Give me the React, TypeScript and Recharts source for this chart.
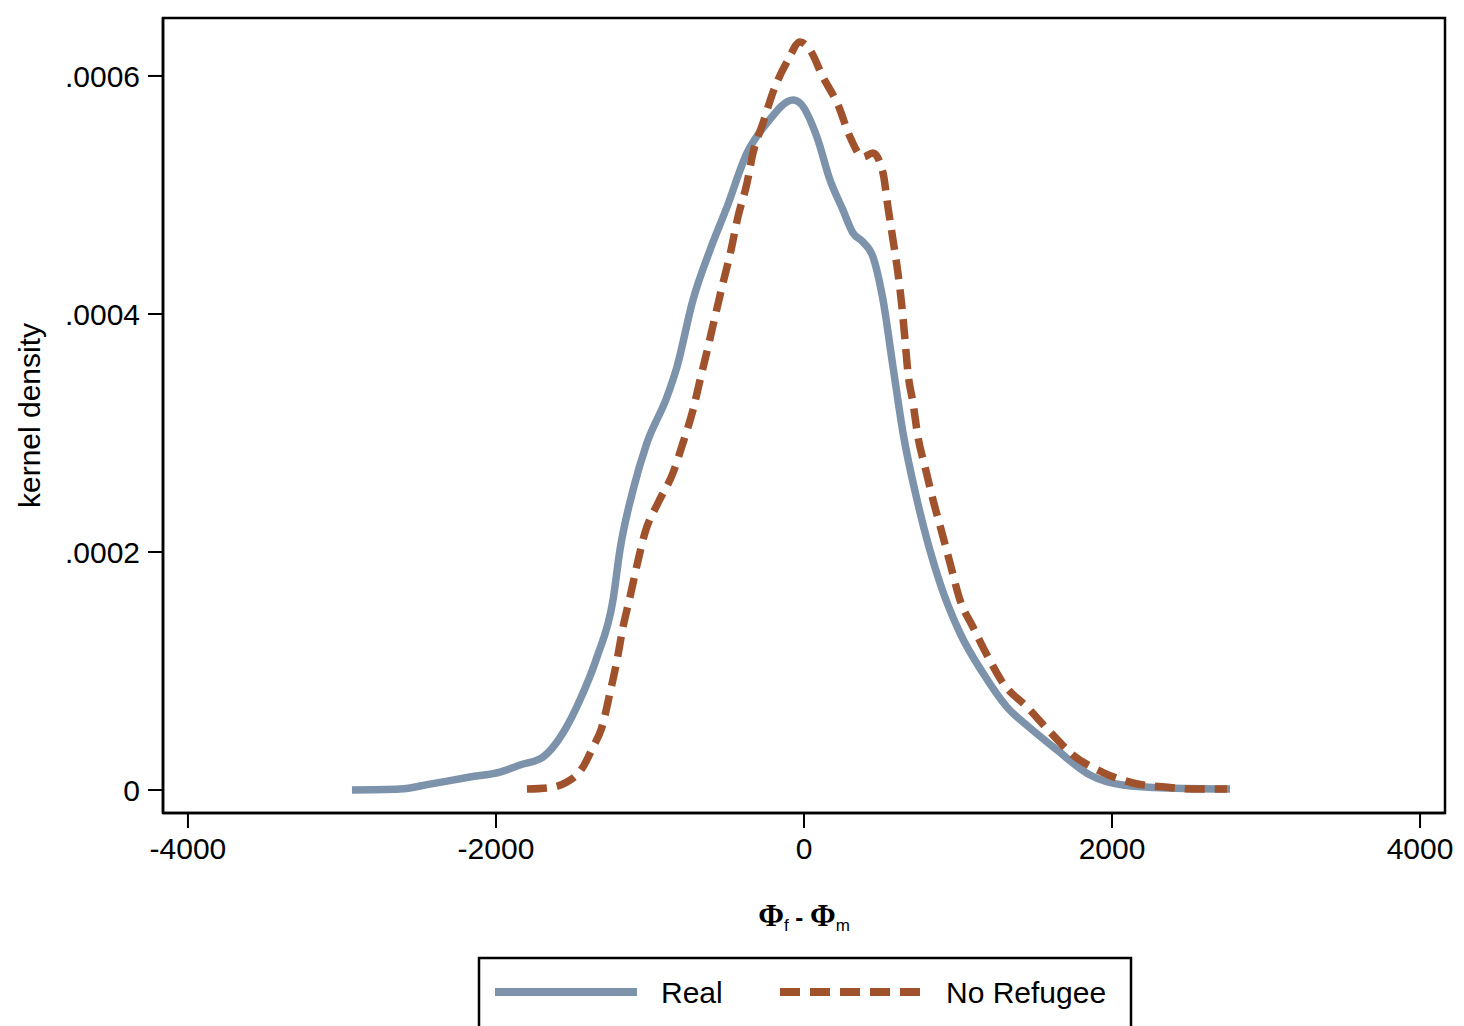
import React from 'react';
import { LineChart, Line, XAxis, YAxis, ReferenceArea } from 'recharts';

// kernel density estimates
const realX = [
  -2935, -2623, -2429, -2169, -1974, -1844, -1695, -1565, -1455, -1344, -1240, -1195, -1110, -1020,
  -890, -825, -721, -610, -500, -370, -240, -71, -26, 84, 169, 253, 318, 383, 448, 513, 578, 643,
  734, 883, 1013, 1162, 1318, 1468, 1643, 1857, 2071, 2357, 2766,
];
const realY = [
  0, 0.0000008, 0.000005, 0.0000109, 0.0000151, 0.000021, 0.0000277, 0.0000479, 0.0000756,
  0.0001118, 0.0001597, 0.0002017, 0.0002521, 0.0002916, 0.0003302, 0.0003555, 0.0004118,
  0.0004538, 0.0004899, 0.0005353, 0.0005605, 0.0005798, 0.0005773, 0.0005487, 0.0005126,
  0.0004874, 0.0004681, 0.0004605, 0.0004479, 0.0004118, 0.0003555, 0.0003, 0.0002437,
  0.0001739, 0.0001319, 0.0000983, 0.0000697, 0.0000521, 0.0000336, 0.0000126, 0.0000042,
  0.0000017, 0.0000008,
];

const noRefX = [
  -1799, -1669, -1539, -1435, -1370, -1312, -1260, -1214, -1175, -1130, -1084, -1033, -948, -851,
  -786, -721, -675, -623, -578, -526, -481, -429, -370, -331, -266, -201, -104, -26, 39, 123, 221,
  299, 383, 448, 513, 545, 578, 610, 636, 656, 675, 708, 740, 786, 838, 896, 948, 1013, 1097, 1195,
  1292, 1448, 1598, 1747, 1935, 2137, 2344, 2559, 2747,
];
const noRefY = [
  0.0000008, 0.0000017, 0.0000067, 0.0000193, 0.0000361, 0.0000529, 0.0000815, 0.0001092,
  0.000137, 0.0001622, 0.0001891, 0.000216, 0.0002412, 0.0002664, 0.0002916, 0.0003193,
  0.0003445, 0.0003723, 0.0003975, 0.000426, 0.0004496, 0.0004815, 0.0005101, 0.0005353,
  0.0005605, 0.0005865, 0.0006134, 0.0006286, 0.0006218, 0.0005991, 0.0005756, 0.0005487,
  0.0005319, 0.0005353, 0.0005185, 0.0004899, 0.0004622, 0.0004344, 0.0004059, 0.0003781,
  0.0003504, 0.0003252, 0.0002966, 0.0002714, 0.0002437, 0.000216, 0.0001907, 0.0001597,
  0.000137, 0.0001118, 0.0000899, 0.0000697, 0.0000487, 0.0000294, 0.0000151, 0.0000059,
  0.0000025, 0.0000008, 0.0000008,
];

const xTicks = [-4000, -2000, 0, 2000, 4000];
const yTicks = [0, 0.0002, 0.0004, 0.0006];
const yTickLabels = ['0', '.0002', '.0004', '.0006'];

const seriesNames = ['Real', 'No Refugee'];
const REAL_COLOR = '#7d93ab';
const NOREF_COLOR = '#a0522d';

const X_DOMAIN: [number, number] = [-4162, 4162];
const Y_DOMAIN: [number, number] = [-0.0000193, 0.0006487];

const realData = realX.map((x, i) => ({ x, y: realY[i] }));
const noRefData = noRefX.map((x, i) => ({ x, y: noRefY[i] }));

const SANS = '"Liberation Sans", Arial, sans-serif';
const SERIF = '"Liberation Serif", "Times New Roman", serif';

function XTitle(props: any) {
  const vb = props.viewBox || { x: 163, y: 813, width: 1282 };
  const cx = vb.x + vb.width / 2;
  return (
    <text x={cx} y={vb.y + 113} textAnchor="middle" fill="#000">
      <tspan fontFamily={SERIF} fontWeight="bold" fontSize={31}>Φ</tspan>
      <tspan fontFamily={SANS} fontSize={17} dy={5}>f</tspan>
      <tspan fontFamily={SANS} fontWeight="bold" fontSize={24} dy={-5}> - </tspan>
      <tspan fontFamily={SERIF} fontWeight="bold" fontSize={31}>Φ</tspan>
      <tspan fontFamily={SANS} fontSize={17} dy={5}>m</tspan>
    </text>
  );
}

function YTitle(props: any) {
  const vb = props.viewBox || { x: 53, y: 18, height: 795 };
  const cy = vb.y + vb.height / 2;
  const x = 40;
  return (
    <text
      x={x}
      y={cy}
      textAnchor="middle"
      fontFamily={SANS}
      fontSize={30}
      fill="#000"
      transform={`rotate(-90, ${x}, ${cy})`}
    >
      kernel density
    </text>
  );
}

export default function App() {
  const tickStyle = { fontFamily: SANS, fontSize: 30, fill: '#000' };
  const axisLine = { stroke: '#000', strokeWidth: 2.5 };
  return (
    <div style={{ position: 'absolute', left: 0, top: 0, width: 1464, height: 1026, overflow: 'hidden', background: '#fff' }}>
      <LineChart width={1464} height={1026} margin={{ top: 18, right: 19, left: 53, bottom: 153 }}>
        <XAxis
          dataKey="x"
          type="number"
          domain={X_DOMAIN}
          ticks={xTicks}
          allowDataOverflow
          height={60}
          tickSize={15}
          tickMargin={10}
          tick={tickStyle}
          axisLine={axisLine}
          tickLine={{ stroke: '#000', strokeWidth: 2 }}
          label={{ content: XTitle }}
        />
        <YAxis
          type="number"
          domain={Y_DOMAIN}
          ticks={yTicks}
          allowDataOverflow
          width={110}
          tickSize={15}
          tickMargin={8}
          tick={tickStyle}
          tickFormatter={(v: number) => yTickLabels[yTicks.indexOf(v)] ?? String(v)}
          axisLine={axisLine}
          tickLine={{ stroke: '#000', strokeWidth: 2 }}
          label={{ content: YTitle }}
        />
        {/* plot-region frame */}
        <ReferenceArea
          x1={X_DOMAIN[0]}
          x2={X_DOMAIN[1]}
          y1={Y_DOMAIN[0]}
          y2={Y_DOMAIN[1]}
          ifOverflow="visible"
          fill="none"
          fillOpacity={0}
          stroke="#000"
          strokeWidth={2.5}
          strokeOpacity={1}
        />
        <Line
          data={realData}
          dataKey="y"
          name={seriesNames[0]}
          type="monotone"
          stroke={REAL_COLOR}
          strokeWidth={7.5}
          dot={false}
          activeDot={false}
          isAnimationActive={false}
        />
        <Line
          data={noRefData}
          dataKey="y"
          name={seriesNames[1]}
          type="monotone"
          stroke={NOREF_COLOR}
          strokeWidth={7.5}
          strokeDasharray="20 10"
          strokeLinecap="butt"
          dot={false}
          activeDot={false}
          isAnimationActive={false}
        />
      </LineChart>
      <svg
        width={1464}
        height={1026}
        style={{ position: 'absolute', left: 0, top: 0, pointerEvents: 'none' }}
      >
        <rect x={479} y={958} width={652} height={120} fill="#fff" stroke="#000" strokeWidth={2.5} />
        <line x1={495} y1={992} x2={637} y2={992} stroke={REAL_COLOR} strokeWidth={8} />
        <text x={661} y={1003} fontFamily={SANS} fontSize={30} fill="#000">{seriesNames[0]}</text>
        <line x1={780} y1={992} x2={920} y2={992} stroke={NOREF_COLOR} strokeWidth={8} strokeDasharray="20 10" />
        <text x={946} y={1003} fontFamily={SANS} fontSize={30} fill="#000">{seriesNames[1]}</text>
      </svg>
    </div>
  );
}
